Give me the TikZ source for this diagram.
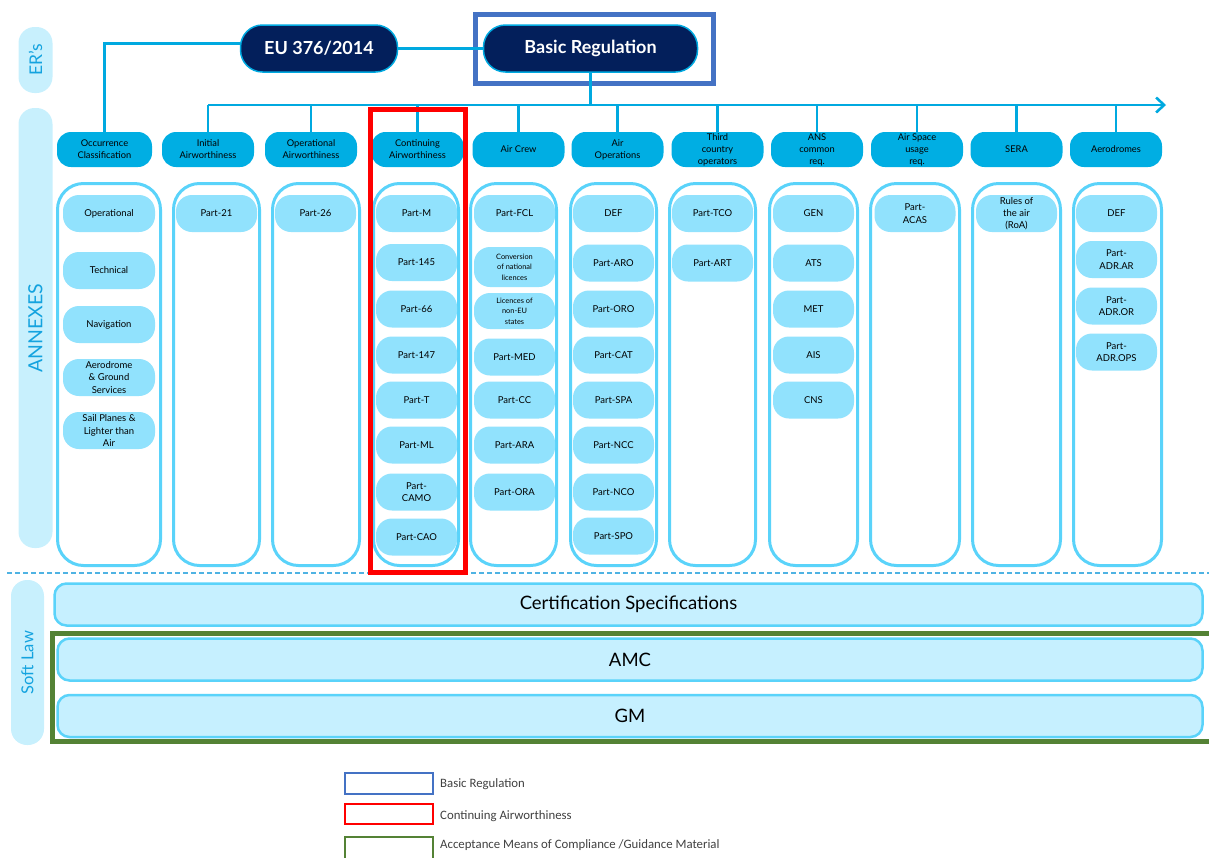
\documentclass[tikz,border=0pt]{standalone}
\usepackage{fontspec}
\setmainfont{Lato}
\newfontfamily\legendfont{Carlito}
\usetikzlibrary{arrows.meta}

\definecolor{navy}{HTML}{031F5B}
\definecolor{cyanline}{HTML}{00A9E0}
\definecolor{hdrfill}{HTML}{00AEE3}
\definecolor{colline}{HTML}{5AD3FA}
\definecolor{itemfill}{HTML}{91E2FD}
\definecolor{sidefill}{HTML}{C8F0FD}
\definecolor{sidetext}{HTML}{14A3DF}
\definecolor{softfill}{HTML}{C6F0FF}
\definecolor{brblue}{HTML}{4472C4}
\definecolor{caRed}{HTML}{FF0000}
\definecolor{amcgreen}{HTML}{548235}
\definecolor{dashblue}{HTML}{4FB3E3}
\definecolor{legendtext}{HTML}{404040}

\tikzset{
  conn/.style={draw=cyanline, line width=2.6},
  regpill/.style={draw=cyanline, line width=1.5, fill=navy, text=white,
    rounded corners=22, inner sep=0, minimum height=47,
    font=\fontsize{18}{20}\selectfont\bfseries},
  hdr/.style={fill=hdrfill, rounded corners=14, minimum width=92,
    minimum height=35, inner sep=0, align=center, text=black,
    font=\fontsize{9.3}{12}\selectfont},
  colbox/.style={draw=colline, line width=3, fill=white, rounded corners=26,
    inner sep=0, minimum height=382},
  item/.style={fill=itemfill, rounded corners=16, minimum height=37,
    minimum width=81, inner sep=0, align=center, text=black,
    font=\fontsize{9.5}{12.3}\selectfont},
  smallitem/.style={item, font=\fontsize{7.4}{10.5}\selectfont},
  sidepill/.style={fill=sidefill, rounded corners=16, inner sep=0,
    minimum width=34, text=sidetext},
  softbar/.style={draw=colline, line width=2.5, fill=softfill,
    rounded corners=12, inner sep=0, minimum width=1148, minimum height=42,
    text=black, font=\fontsize{18.5}{21}\selectfont},
  frame/.style={line width=5},
  legbox/.style={line width=2.5},
  legtext/.style={anchor=west, inner sep=0, text=legendtext,
    font=\legendfont\fontsize{12.8}{15}\selectfont}
}

\begin{document}
\begin{tikzpicture}[x=1pt, y=-1pt]
\useasboundingbox (0,0) rectangle (1209,857);
\clip (0,0) rectangle (1209,857);

% side labels
\node[sidepill, minimum height=66] (ers) at (35.5,60) {};
\node[rotate=90, text=sidetext, font=\fontsize{17.5}{20}\selectfont] at (ers.center) {ER’s};
\node[sidepill, minimum height=440] (annex) at (35.5,328) {};
\node[rotate=90, text=sidetext, font=\fontsize{19.5}{22}\selectfont] at (annex.center) {ANNEXES};
\node[sidepill, minimum width=33, minimum height=165] (soft) at (27.5,662.5) {};
\node[rotate=90, text=sidetext, font=\fontsize{16.5}{19}\selectfont] at (soft.center) {Soft Law};

% regulations at the top
\node[regpill, minimum width=157] (eu) at (319,48.5) {EU 376/2014};
\node[regpill, minimum width=214] (br) at (590.5,48.5) {Basic Regulation};
\draw[brblue, frame] (475.5,14.5) rectangle (713.5,83.5);

% column headers
\node[hdr, minimum width=95] (h1) at (104.5,149.5) {Occurrence\\Classification};
\node[hdr] (h2) at (208,149.5) {Initial\\Airworthiness};
\node[hdr] (h3) at (311,149.5) {Operational\\Airworthiness};
\node[hdr] (h4) at (417.5,149.5) {Continuing\\Airworthiness};
\node[hdr] (h5) at (518.5,149.5) {Air Crew};
\node[hdr] (h6) at (617.5,149.5) {Air\\Operations};
\node[hdr] (h7) at (717.5,149.5) {Third\\country\\operators};
\node[hdr] (h8) at (817,149.5) {ANS\\common\\req.};
\node[hdr] (h9) at (917,149.5) {Air Space\\usage\\req.};
\node[hdr] (h10) at (1016.5,149.5) {SERA};
\node[hdr] (h11) at (1116,149.5) {Aerodromes};

% connectors
\coordinate (bus) at (0,105);
\coordinate (busend) at (1166,105);
\draw[conn] ([yshift=5]eu.west) -| (h1.north);
\draw[conn] (eu.east) -- (br.west);
\draw[conn] (br.south) -- (br.south |- bus);
\draw[conn, -{Straight Barb[length=8, width=15]}] (h2.north |- bus) -- (busend);
\foreach \h in {h2,h3,h4,h5,h6,h7,h8,h9,h10,h11}
  \draw[conn] (\h.north) -- (\h.north |- bus);

% column frames
\node[colbox, minimum width=103] (k1) at (109,374.5) {};
\node[colbox, minimum width=86] (k2) at (216.5,374.5) {};
\node[colbox, minimum width=87] (k3) at (316,374.5) {};
\node[colbox, minimum width=85] (k4) at (416,374.5) {};
\node[colbox, minimum width=86] (k5) at (513.5,374.5) {};
\node[colbox, minimum width=86] (k6) at (613.5,374.5) {};
\node[colbox, minimum width=86] (k7) at (712.5,374.5) {};
\node[colbox, minimum width=88] (k8) at (813.5,374.5) {};
\node[colbox, minimum width=89] (k9) at (915,374.5) {};
\node[colbox, minimum width=88] (k10) at (1016.5,374.5) {};
\node[colbox, minimum width=88] (k11) at (1117.5,374.5) {};

% Occurrence Classification
\node[item, minimum width=92] (a1) at (109,213.5) {Operational};
\node[item, minimum width=92] (a2) at (109,270.5) {Technical};
\node[item, minimum width=92] (a3) at (109,324.5) {Navigation};
\node[item, minimum width=92] (a4) at (109,377.5) {Aerodrome\\\& Ground\\Services};
\node[item, minimum width=92] (a5) at (109,430.5) {Sail Planes \&\\Lighter than\\Air};

% Initial / Operational Airworthiness
\node[item] (b1) at (216.5,213.5) {Part-21};
\node[item] (c1) at (315.5,213.5) {Part-26};

% Continuing Airworthiness
\node[item] (d1) at (416.5,213.5) {Part-M};
\node[item] (d2) at (416.5,262.5) {Part-145};
\node[item] (d3) at (416.5,309) {Part-66};
\node[item] (d4) at (416.5,355) {Part-147};
\node[item] (d5) at (416.5,400) {Part-T};
\node[item] (d6) at (416.5,445) {Part-ML};
\node[item] (d7) at (416.5,492) {Part-\\CAMO};
\node[item] (d8) at (416.5,537) {Part-CAO};

% Air Crew
\node[item] (e1) at (514.5,213.5) {Part-FCL};
\node[smallitem, minimum height=40] (e2) at (514.5,267) {Conversion\\of national\\licences};
\node[smallitem, minimum height=36] (e3) at (514.5,311) {Licences of\\non-EU\\states};
\node[item] (e4) at (514.5,357) {Part-MED};
\node[item] (e5) at (514.5,400) {Part-CC};
\node[item] (e6) at (514.5,445) {Part-ARA};
\node[item] (e7) at (514.5,492) {Part-ORA};

% Air Operations
\node[item] (f1) at (613.5,213.5) {DEF};
\node[item] (f2) at (613.5,263) {Part-ARO};
\node[item] (f3) at (613.5,309) {Part-ORO};
\node[item] (f4) at (613.5,355) {Part-CAT};
\node[item] (f5) at (613.5,400) {Part-SPA};
\node[item] (f6) at (613.5,445) {Part-NCC};
\node[item] (f7) at (613.5,492) {Part-NCO};
\node[item] (f8) at (613.5,536) {Part-SPO};

% Third country operators
\node[item] (g1) at (712.5,213.5) {Part-TCO};
\node[item] (g2) at (712.5,263) {Part-ART};

% ANS common requirements
\node[item] (m1) at (813.5,213.5) {GEN};
\node[item] (m2) at (813.5,263) {ATS};
\node[item] (m3) at (813.5,309) {MET};
\node[item] (m4) at (813.5,355) {AIS};
\node[item] (m5) at (813.5,400) {CNS};

% Air space usage, SERA, Aerodromes
\node[item] (n1) at (915,213.5) {Part-\\ACAS};
\node[item] (p1) at (1016.5,213.5) {Rules of\\the air\\(RoA)};
\node[item] (q1) at (1116.5,213.5) {DEF};
\node[item] (q2) at (1116.5,259.5) {Part-\\ADR.AR};
\node[item] (q3) at (1116.5,306) {Part-\\ADR.OR};
\node[item] (q4) at (1116.5,352) {Part-\\ADR.OPS};

% separator between annexes and soft law
\draw[dashblue, line width=1.2, dash pattern=on 5 off 3] (7,573) -- (1209,573);

% Continuing Airworthiness highlight
\draw[caRed, frame] (370.5,109.5) rectangle (465.5,572.5);

% soft law bars
\node[softbar, minimum width=1148] (cs) at (628.5,604.5) {Certification Specifications};
\node[softbar, minimum width=1145] (amc) at (630,659.5) {AMC};
\node[softbar, minimum width=1145] (gm) at (630,716) {GM};
\draw[amcgreen, frame] (52.5,633.5) rectangle (1220,741.5);

% legend
\draw[brblue, legbox] (345,773) rectangle (433,794);
\node[legtext] (l1) at (440,784) {Basic Regulation};
\draw[caRed, legbox] (345,804) rectangle (433,824);
\node[legtext] (l2) at (440,816) {Continuing Airworthiness};
\draw[amcgreen, legbox] (345,837) rectangle (433,870);
\node[legtext] (l3) at (440,845) {Acceptance Means of Compliance /Guidance Material};
\end{tikzpicture}
\end{document}
